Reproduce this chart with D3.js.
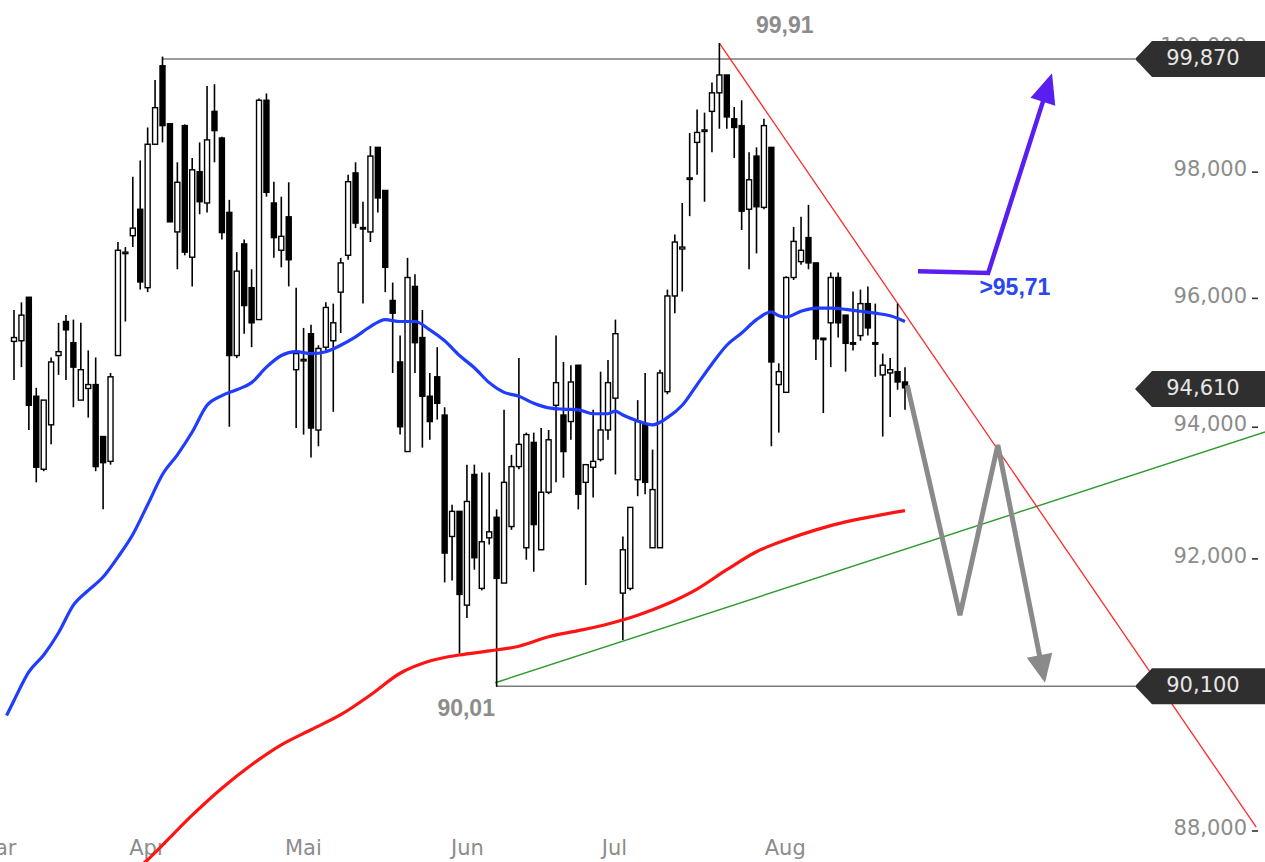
<!DOCTYPE html>
<html><head><meta charset="utf-8">
<script src="https://cdn.jsdelivr.net/npm/d3@7"></script>
<style>html,body{margin:0;padding:0;background:#fff;overflow:hidden}</style>
</head><body><svg id="c" width="1265" height="862"></svg>
<script>
// ---- candle data (trading-day index 0..120) ----
const opens=[95.32,95.33,96.01,94.47,93.35,94.03,95.10,95.63,95.30,94.41,
94.59,94.65,93.85,93.47,95.10,96.70,96.98,97.40,96.16,98.44,
99.71,98.77,97.04,98.74,96.64,98.00,97.50,98.97,98.54,97.35,
95.10,96.85,96.16,95.66,99.15,97.50,96.75,97.28,94.88,95.03,
95.44,93.95,95.23,95.33,96.09,96.67,97.98,97.11,97.04,98.39,
97.70,95.96,95.00,93.62,96.18,95.38,94.47,94.77,94.18,92.33,
92.71,91.30,93.27,91.55,92.31,92.62,91.63,92.48,93.39,92.16,
93.76,92.13,93.00,94.33,94.18,94.08,94.95,93.15,93.38,93.50,
93.95,94.44,91.48,91.55,93.19,94.03,92.16,92.16,94.54,96.03,
96.77,97.89,98.47,98.66,98.97,99.27,99.56,98.85,98.74,97.40,
98.25,97.43,98.39,94.65,94.53,96.32,96.57,96.95,96.55,95.37,
95.61,96.32,95.73,95.30,95.41,95.91,95.30,94.80,94.83,94.85,
94.69];
const highs=[95.81,95.93,96.01,94.60,94.41,95.07,95.61,95.73,95.66,95.61,
95.18,95.07,93.85,94.83,96.88,96.80,97.92,98.18,98.71,99.48,
99.86,98.77,98.15,98.76,98.22,98.47,99.38,99.41,98.56,97.55,
96.72,96.92,96.45,99.18,99.26,97.84,97.60,97.83,96.16,95.53,
95.58,95.26,95.93,95.91,96.63,97.95,98.15,97.52,98.41,98.39,
97.70,96.24,95.41,96.63,96.37,95.81,94.83,95.23,94.30,92.81,
92.71,93.42,93.42,93.30,93.30,92.74,94.26,93.57,95.06,93.91,
93.91,93.98,93.95,95.41,95.00,94.95,94.95,93.42,94.26,94.85,
95.03,95.66,92.33,92.77,94.41,94.83,93.65,94.88,96.13,97.00,
97.50,98.62,99.00,98.95,99.44,100.08,99.56,99.04,99.15,98.31,
98.39,98.85,98.39,94.98,96.34,97.12,97.28,97.47,96.55,95.37,
96.40,96.40,95.73,96.10,96.13,96.18,95.91,95.13,95.06,95.91,
94.92];
const lows=[94.72,94.92,93.95,93.15,93.32,93.73,94.80,94.72,94.30,94.41,
94.14,93.32,92.74,93.42,95.10,95.63,96.80,96.13,96.09,98.44,
98.47,97.20,96.45,96.67,96.18,97.32,97.35,98.15,96.92,94.00,
95.06,95.44,95.23,95.66,97.60,96.63,96.48,96.18,93.98,93.88,
93.53,93.70,95.18,94.23,95.45,96.60,97.10,95.91,96.88,97.35,
96.09,94.83,93.88,93.62,94.83,93.68,93.80,94.11,91.64,91.67,
90.58,91.11,91.83,91.52,92.21,90.09,91.63,92.43,93.35,91.98,
91.80,92.13,92.97,93.15,93.22,93.80,92.74,91.60,92.92,93.47,
93.80,93.27,90.78,91.52,92.94,92.97,92.16,92.16,94.50,95.76,
96.10,97.29,97.95,97.52,98.31,98.69,98.69,98.22,97.07,96.45,
96.70,97.40,93.70,93.91,94.53,96.28,96.52,96.45,95.03,94.21,
94.92,95.38,94.85,95.18,95.33,95.41,94.77,93.85,94.15,94.57,
94.26];
const closes=[95.38,95.73,94.33,93.38,94.41,95.00,95.16,95.50,94.92,94.88,
94.65,93.39,93.45,94.77,96.75,96.72,97.10,96.25,98.44,99.03,
98.74,97.20,97.83,96.72,98.03,97.52,98.51,98.66,97.03,95.10,
96.42,95.88,95.61,99.15,97.67,96.95,96.97,96.60,95.13,95.04,
93.98,95.21,95.85,95.61,96.55,97.84,97.18,97.10,98.25,97.58,
96.48,95.76,94.00,96.32,95.30,94.47,94.08,94.36,92.08,92.71,
91.46,92.86,92.01,92.25,92.40,91.70,93.15,93.39,93.73,93.88,
92.51,93.00,93.80,94.68,93.62,94.69,92.97,93.42,93.47,93.95,
94.68,95.44,92.13,92.77,94.08,93.15,93.04,94.83,96.03,96.88,
96.80,97.90,98.63,98.67,99.27,99.56,98.88,98.71,97.37,97.87,
97.44,98.74,95.00,94.85,96.32,96.89,96.75,96.55,95.36,95.36,
96.32,95.61,95.29,95.29,95.91,95.53,95.29,94.95,94.88,94.69,
94.60];

// ---- moving averages (read at candle indices) ----
const blueIdx=[-1,0,2,4,6,8,10,12,14,16,18,20,22,24,26,28,30,32,34,36,38,40,42,44,46,48,50,52,54,56,58,60,62,64,66,68,70,72,74,76,78,80,81,82,84,86,88,90,92,94,96,98,100,102,103,104,106,108,110,112,114,116,118,120];
const blueVals=[89.67,89.89,90.31,90.56,90.89,91.30,91.52,91.72,92.02,92.36,92.81,93.27,93.57,93.92,94.33,94.48,94.57,94.68,94.92,95.10,95.16,95.13,95.16,95.26,95.39,95.55,95.66,95.63,95.63,95.50,95.33,95.10,94.91,94.68,94.53,94.47,94.36,94.29,94.27,94.26,94.20,94.20,94.24,94.18,94.09,94.03,94.14,94.33,94.65,94.97,95.26,95.45,95.66,95.78,95.72,95.70,95.79,95.84,95.84,95.82,95.79,95.76,95.72,95.63];
const redIdx=[17,18,20,24,28,32,36,40,44,48,52,56,60,64,68,72,76,80,84,88,92,96,100,104,108,112,116,120];
const redVals=[87.49,87.58,87.79,88.22,88.61,88.95,89.24,89.46,89.68,89.97,90.29,90.47,90.56,90.62,90.69,90.83,90.92,91.02,91.15,91.32,91.54,91.83,92.10,92.28,92.43,92.55,92.64,92.72];

// ---- axes ----
const yTicks=[88,90,92,94,96,98,100];
const monthNames=["Mar","Apr","Mai","Jun","Jul","Aug"];
const monthPos=[-2.4,17.9,38.9,61.0,80.8,103.8];

// ---- annotations ----
const levelValues=[99.82,94.58,90.10];
const levelLabels=["99,870","94,610","90,100"];
const levelStart=[20,null,65];
const resistIdx=[95,167.3], resistVal=[100.08,88.05];
const supportIdx=[64.8,168.5], supportVal=[90.15,93.92];
const downIdx=[120.3,127.4,132.5,138.85], downVal=[94.64,91.15,93.72,90.15];
const upIdx=[121.75,131.2,139.8], upVal=[96.42,96.39,99.59];
const noteTexts=["99,91","90,01",">95,71"];
const noteIdx=[103.8,60.9,134.8];
const noteVal=[100.38,89.78,96.17];
const noteColors=["#8c8c8c","#8c8c8c","#2a46f2"];

// ================= drawing =================
const svg=d3.select("#c");
const x=d3.scaleLinear().domain([0,120]).range([14,905]);
const y=d3.scaleLog().domain([88,100]).range([830.5,48]);
const FONT="DejaVu Sans, Verdana, sans-serif";

svg.append("rect").attr("width",1265).attr("height",862).attr("fill","#fff");

// y axis
const yAxis=d3.axisLeft(y).tickValues(yTicks).tickSize(6).tickPadding(5)
  .tickFormat(d=>d.toFixed(3).replace(".",","));
const ga=svg.append("g").attr("transform","translate(1258,0)").call(yAxis);
ga.select(".domain").remove();
ga.selectAll(".tick line").attr("stroke","#333").attr("stroke-width",1.6);
ga.selectAll(".tick text").attr("fill","#8c8c8c").attr("font-family",FONT)
  .attr("font-size",21).attr("dy","0.2em");

// x axis (month labels)
const xAxis=d3.axisTop(x).tickValues(monthPos).tickSize(4).tickPadding(7)
  .tickFormat((d,i)=>monthNames[i]);
const gx=svg.append("g").attr("transform","translate(0,866)").call(xAxis);
gx.select(".domain").remove();
gx.selectAll(".tick line").attr("stroke","#888");
gx.selectAll(".tick text").attr("fill","#8c8c8c").attr("font-family",FONT).attr("font-size",21);

// horizontal levels
const tipX=1135;
levelValues.forEach((v,k)=>{
  if(levelStart[k]!==null){
    svg.append("line").attr("x1",x(levelStart[k])).attr("x2",tipX)
      .attr("y1",y(v)).attr("y2",y(v)).attr("stroke","#7a7a7a").attr("stroke-width",1.5);
  }
});

// support (green) & resistance (red) trendlines
const line=d3.line();
svg.append("path").attr("d",line(supportIdx.map((d,i)=>[x(d),y(supportVal[i])])))
  .attr("stroke","#2e9a2e").attr("stroke-width",1.4).attr("fill","none");
svg.append("path").attr("d",line(resistIdx.map((d,i)=>[x(d),y(resistVal[i])])))
  .attr("stroke","#ff2a2a").attr("stroke-width",1.3).attr("fill","none");

// candles
const idx=d3.range(opens.length);
const bw=5;
const gc=svg.append("g");
gc.selectAll("line.w").data(idx).join("line")
  .attr("x1",i=>x(i)).attr("x2",i=>x(i))
  .attr("y1",i=>y(highs[i])).attr("y2",i=>y(lows[i]))
  .attr("stroke","#000").attr("stroke-width",1.6);
gc.selectAll("rect.b").data(idx).join("rect")
  .attr("x",i=>x(i)-bw/2).attr("width",bw)
  .attr("y",i=>y(Math.max(opens[i],closes[i])))
  .attr("height",i=>Math.max(1.5,y(Math.min(opens[i],closes[i]))-y(Math.max(opens[i],closes[i]))))
  .attr("fill",i=>closes[i]<opens[i]?"#000":"#fff")
  .attr("stroke","#000").attr("stroke-width",1.4);

// moving averages
const curve=d3.line().curve(d3.curveMonotoneX);
svg.append("path").attr("d",curve(blueIdx.map((d,i)=>[x(d),y(blueVals[i])])))
  .attr("stroke","#1f3cff").attr("stroke-width",3.2).attr("fill","none");
svg.append("path").attr("d",curve(redIdx.map((d,i)=>[x(d),y(redVals[i])])))
  .attr("stroke","#ff1414").attr("stroke-width",3.2).attr("fill","none");

// arrows
function arrow(pts,color,width,headLen,headHalf){
  const n=pts.length, tip=pts[n-1], prev=pts[n-2];
  const dx=tip[0]-prev[0], dy=tip[1]-prev[1], L=Math.hypot(dx,dy);
  const ux=dx/L, uy=dy/L;
  const bx=tip[0]-ux*headLen, by=tip[1]-uy*headLen;
  const body=pts.slice(0,n-1).concat([[bx+ux*2,by+uy*2]]);
  svg.append("path").attr("d",d3.line()(body)).attr("stroke",color)
    .attr("stroke-width",width).attr("fill","none").attr("stroke-linejoin","miter");
  svg.append("path").attr("d",d3.line()([tip,[bx-uy*headHalf,by+ux*headHalf],[bx+uy*headHalf,by-ux*headHalf]])+"Z")
    .attr("fill",color);
}
arrow(downIdx.map((d,i)=>[x(d),y(downVal[i])]),"#8a8a8a",5,28,13);
arrow(upIdx.map((d,i)=>[x(d),y(upVal[i])]),"#5a1ef0",4.5,30,13);

// level label boxes
levelValues.forEach((v,k)=>{
  const cy=y(v);
  svg.append("path").attr("d",`M${tipX},${cy} L${tipX+17},${cy-18} L1265,${cy-18} L1265,${cy+18} L${tipX+17},${cy+18} Z`)
    .attr("fill","#2f2f2f");
  svg.append("text").attr("x",1203).attr("y",cy).attr("dy","0.3em")
    .attr("text-anchor","middle").attr("fill","#e6e6e6")
    .attr("font-family",FONT).attr("font-size",21).text(levelLabels[k]);
});

// notes
noteTexts.forEach((t,k)=>{
  svg.append("text").attr("x",x(noteIdx[k])).attr("y",y(noteVal[k])).attr("dy","0.36em")
    .attr("text-anchor","middle").attr("fill",noteColors[k])
    .attr("font-family","Liberation Sans, Arial, sans-serif").attr("font-weight","bold")
    .attr("font-size",23).text(t);
});
</script></body></html>
